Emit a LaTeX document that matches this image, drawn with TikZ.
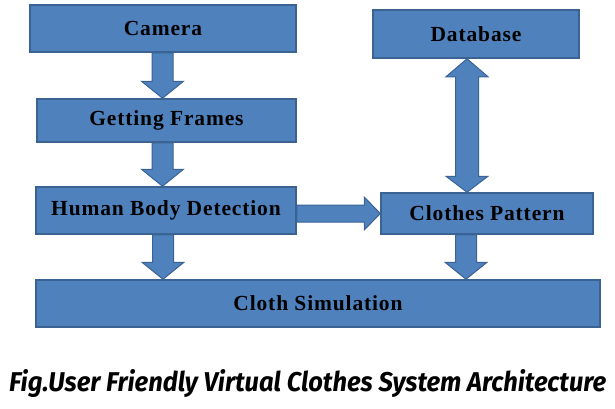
\documentclass[tikz,border=0pt]{standalone}
\usepackage{xcolor}
\usepackage{graphicx}
\usepackage{fontspec}
\setmainfont{Liberation Serif}
\newfontfamily\boxfont[LetterSpace=4]{Liberation Serif}
\newfontfamily\capfont{Fira Sans}
\usepackage{tikz}
\usetikzlibrary{calc}

\definecolor{boxblue}{HTML}{4F81BD}
\definecolor{edgeblue}{HTML}{3A6394}

% block arrows between named boxes
\newcommand{\downblk}[3]{%
  \filldraw[blk] let \p1=(#1.south), \p2=(#2.north) in
    ({#3pt-10.5pt},\y1) -- ({#3pt+10.5pt},\y1) -- ({#3pt+10.5pt},\y2+17pt)
    -- ({#3pt+21pt},\y2+17pt) -- (#3pt,\y2) -- ({#3pt-21pt},\y2+17pt)
    -- ({#3pt-10.5pt},\y2+17pt) -- cycle;}
\newcommand{\rightblk}[2]{%
  \filldraw[blk] let \p1=(#1.east), \p2=(#2.west) in
    (\x1,\y2+8.5pt) -- (\x2-16pt,\y2+8.5pt) -- (\x2-16pt,\y2+16.5pt) -- (\x2,\y2)
    -- (\x2-16pt,\y2-16.5pt) -- (\x2-16pt,\y2-8.5pt) -- (\x1,\y2-8.5pt) -- cycle;}
\newcommand{\bothblk}[3]{%
  \filldraw[blk] let \p1=(#1.south), \p2=(#2.north) in
    (#3pt,\y1) -- ({#3pt+21pt},\y1-18pt) -- ({#3pt+11.5pt},\y1-18pt)
    -- ({#3pt+11.5pt},\y2+16pt) -- ({#3pt+21pt},\y2+16pt) -- (#3pt,\y2)
    -- ({#3pt-21pt},\y2+16pt) -- ({#3pt-11.5pt},\y2+16pt)
    -- ({#3pt-11.5pt},\y1-18pt) -- ({#3pt-21pt},\y1-18pt) -- cycle;}

\begin{document}
\begin{tikzpicture}[x=1pt, y=-1pt,
    box/.style={draw=edgeblue, fill=boxblue, line width=1.5pt, inner sep=0pt,
      font=\boxfont\fontsize{21.5}{24}\selectfont\bfseries},
    blk/.style={draw=edgeblue, fill=boxblue, line width=1pt, line join=miter}]
    \useasboundingbox (0,0) rectangle (615,408);

    \node[box, minimum width=266pt, minimum height=47pt] (cam) at (163,28.5) {Camera};
    \node[box, minimum width=259pt, minimum height=43pt] (frames) at (166.5,120.5) {Getting Frames};
    \node[box, minimum width=260pt, minimum height=47pt] (body) at (166,210.5) {Human Body Detection};
    \node[box, minimum width=564pt, minimum height=47pt] (sim) at (318,303.5) {Cloth Simulation};
    \node[box, minimum width=206pt, minimum height=48pt] (db) at (476,34) {Database};
    \node[box, minimum width=212pt, minimum height=41pt] (pattern) at (487,213.5) {Clothes Pattern};

    \downblk{cam}{frames}{162.5}
    \downblk{frames}{body}{162.5}
    \downblk{body}{sim}{163}
    \downblk{pattern}{sim}{466}
    \rightblk{body}{pattern}
    \bothblk{db}{pattern}{467}

    \node[anchor=base west, inner sep=0pt] (caption) at (9,391)
      {\resizebox{597pt}{22pt}{\capfont\bfseries\itshape Fig.User Friendly Virtual Clothes System Architecture}};
\end{tikzpicture}
\end{document}
